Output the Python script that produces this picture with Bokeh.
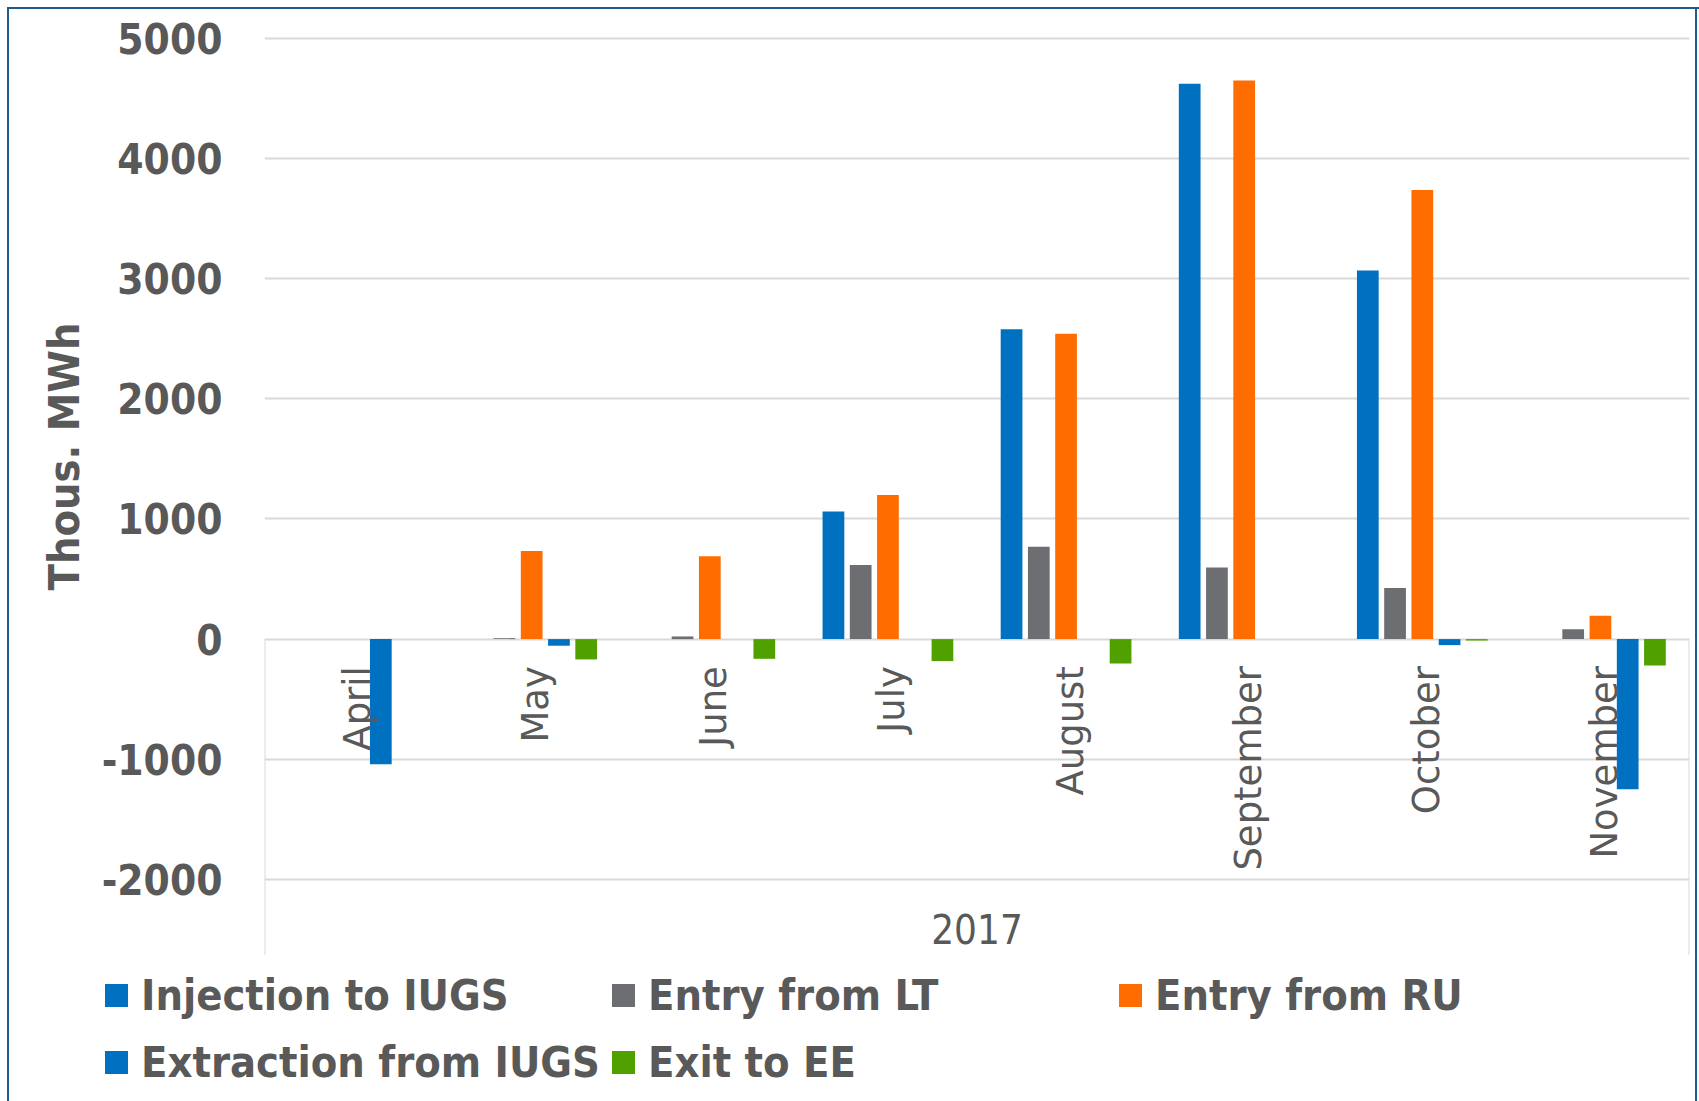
from math import pi

from bokeh.core.properties import value
from bokeh.embed import file_html
from bokeh.layouts import column
from bokeh.models import (ColumnDataSource, Div, FactorRange, FixedTicker,
                          PrintfTickFormatter, Range1d, Title)
from bokeh.plotting import figure
from bokeh.resources import INLINE
from bokeh.transform import dodge

# Monthly gas flows, thousand MWh
year = "2017"
months = ["April", "May", "June", "July", "August", "September", "October", "November"]
injection = [0, 0, 0, 1063, 2578, 4622, 3067, 0]
entry_lt = [0, 8, 22, 617, 768, 595, 425, 83]
entry_ru = [0, 733, 690, 1200, 2542, 4649, 3737, 194]
extraction = [-1041, -55, 0, 0, 0, 0, -50, -1250]
exit_ee = [0, -169, -164, -183, -203, 0, -12, -219]

series_names = ["Injection to IUGS", "Entry from LT", "Entry from RU",
                "Extraction from IUGS", "Exit to EE"]
y_ticks = [-2000, -1000, 0, 1000, 2000, 3000, 4000, 5000]

BOLD_FONT = "DejaVu Sans Condensed"
TEXT_GREY = "#595959"
GRID_GREY = "#d9d9d9"
FRAME_BLUE = "#1F5C8E"
colors = ["#0070C0", "#6D6E71", "#FF6D00", "#0070C0", "#50A000"]

W = 1699
CHART_H, LEGEND_H = 955, 146
LEFT, RIGHT, TOP = 264, 10, 36
Y_LO, Y_HI = -2633, 5015

src = ColumnDataSource(dict(
    month=months,
    injection=injection,
    entry_lt=entry_lt,
    entry_ru=entry_ru,
    extraction=extraction,
    exit_ee=exit_ee,
))

# thin frame around the whole chart, drawn as CSS background stripes
line = f"linear-gradient({FRAME_BLUE}, {FRAME_BLUE})"
chart_styles = {
    "background-color": "white",
    "background-image": ", ".join([line, line, line]),
    "background-size": "2px 100%, 100% 2px, 2px 100%",
    "background-position": f"7px 7px, 7px 7px, {W - 4}px 7px",
    "background-repeat": "no-repeat",
}
legend_styles = {
    "background-color": "white",
    "background-image": ", ".join([line, line]),
    "background-size": "2px 100%, 2px 100%",
    "background-position": f"7px 0px, {W - 4}px 0px",
    "background-repeat": "no-repeat",
}

p = figure(
    width=W, height=CHART_H,
    x_range=FactorRange(factors=months, range_padding=0),
    y_range=Range1d(Y_LO, Y_HI),
    x_axis_location=None,
    output_backend="svg", toolbar_location=None,
    min_border_left=LEFT, min_border_right=RIGHT,
    min_border_top=TOP, min_border_bottom=0,
    styles=chart_styles, margin=0,
)
p.outline_line_color = None
p.border_fill_color = None
p.background_fill_color = "white"

ax = p.yaxis[0]
ax.ticker = FixedTicker(ticks=y_ticks)
ax.formatter = PrintfTickFormatter(format="%d")
ax.axis_line_color = None
ax.major_tick_line_color = None
ax.minor_tick_line_color = None
ax.major_tick_out = 0
ax.major_tick_in = 0
ax.major_label_standoff = 42
ax.major_label_text_font = BOLD_FONT
ax.major_label_text_font_style = "bold"
ax.major_label_text_font_size = "42px"
ax.major_label_text_color = TEXT_GREY

# value axis title, centred on the 5000 .. -2000 span
p.add_layout(Title(text="Thous. MWh", align="left", offset=365, standoff=20,
                   text_font=BOLD_FONT, text_font_style="bold",
                   text_font_size="43px", text_color=TEXT_GREY), "left")

p.xgrid.visible = False
p.ygrid.ticker = FixedTicker(ticks=y_ticks)
p.ygrid.grid_line_color = GRID_GREY
p.ygrid.grid_line_width = 2

# category axis boundary lines below zero
p.segment(x0=[0, len(months)], y0=[0, 0], x1=[0, len(months)], y1=[Y_LO, Y_LO],
          line_color=GRID_GREY, line_width=2)

fields = ["injection", "entry_lt", "entry_ru", "extraction", "exit_ee"]
offsets = [-0.306, -0.153, 0.0, 0.153, 0.306]
for field, off, col in zip(fields, offsets, colors):
    p.vbar(x=dodge("month", off, range=p.x_range), top=field, bottom=0,
           width=0.122, source=src, fill_color=col, line_color=None)

# month labels hanging from the zero line
p.text(x="month", y=0, text="month", source=src, angle=pi / 2,
       text_align="right", text_baseline="middle", y_offset=27, x_offset=4,
       text_font=value("DejaVu Sans"), text_font_size="37px", text_color=TEXT_GREY)

# year label under the months
p.text(x=[len(months) / 2], y=[-2416], text=[year], text_align="center",
       text_baseline="middle", text_font=value(BOLD_FONT), text_font_size="40px",
       text_color=TEXT_GREY)

# legend: three columns, two rows
col_left = [105, 612, 1119]
row_mid = [40, 107]
SW, ROW_H, GAP = 23, 67, 13
parts = []
for i, (name, col) in enumerate(zip(series_names, colors)):
    r, c = divmod(i, 3)
    x, y = col_left[c], row_mid[r]
    parts.append(
        f'<span style="position:absolute;left:{x}px;top:{y - SW // 2}px;'
        f'width:{SW}px;height:{SW}px;background:{col}"></span>'
        f'<span style="position:absolute;left:{x + SW + GAP}px;top:{y - ROW_H // 2}px;'
        f'height:{ROW_H}px;line-height:{ROW_H}px;white-space:nowrap">{name}</span>'
    )
legend_html = (
    f'<div style="position:relative;width:{W}px;height:{LEGEND_H}px;margin:0;padding:0;'
    f"font-family:'{BOLD_FONT}';font-weight:bold;font-size:43px;color:{TEXT_GREY}\">"
    + "".join(parts) + "</div>"
)
legend = Div(text=legend_html, width=W, height=LEGEND_H, margin=0, styles=legend_styles)

page = column(p, legend, spacing=0, margin=0)

open("out.html", "w").write(file_html(page, INLINE))
